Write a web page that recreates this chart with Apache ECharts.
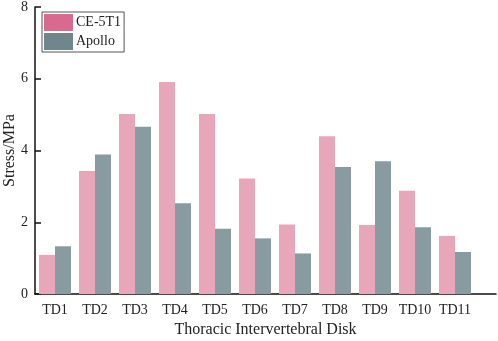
<!DOCTYPE html>
<html><head><meta charset="utf-8">
<script src="https://cdn.jsdelivr.net/npm/echarts@6/dist/echarts.min.js"></script>
<style>html,body{margin:0;padding:0;background:#fff}#c{width:498px;height:341px}</style>
</head><body><div id="c"></div>
<script>
const categories = ['TD1','TD2','TD3','TD4','TD5','TD6','TD7','TD8','TD9','TD10','TD11'];
const ce5t1 = [1.09, 3.43, 5.02, 5.91, 5.02, 3.22, 1.94, 4.40, 1.92, 2.88, 1.62];
const apollo = [1.33, 3.89, 4.66, 2.53, 1.82, 1.55, 1.13, 3.54, 3.70, 1.86, 1.17];
const yTicks = [0, 2, 4, 6, 8];

const font = 'Liberation Serif, Times New Roman, serif';
const chart = echarts.init(document.getElementById('c'), null, {renderer:'canvas'});
chart.setOption({
  animation: false,
  grid: [
    {left: 35, right: 23, top: 7, bottom: 47, containLabel: false, outerBoundsMode: 'none'},
    {left: 35, right: 2, top: 7, bottom: 47, containLabel: false, outerBoundsMode: 'none'}
  ],
  legend: {
    left: 42, top: 12,
    orient: 'vertical',
    itemWidth: 29, itemHeight: 17, itemGap: 2,
    padding: [2, 3, 2, 2],
    borderColor: '#555', borderWidth: 1,
    textStyle: {fontFamily: font, fontSize: 14, color: '#222', padding: [0,0,0,-2]},
    data: [
      {name: 'CE-5T1', icon: 'rect', itemStyle: {color: '#d8698f'}},
      {name: 'Apollo', icon: 'rect', itemStyle: {color: '#6e868c'}}
    ]
  },
  xAxis: [{
    type: 'category', data: categories, gridIndex: 0,
    axisLine: {show: false},
    axisTick: {show: false},
    axisLabel: {fontFamily: font, fontSize: 14, color: '#222', margin: 9, interval: 0}
  }, {
    type: 'value', gridIndex: 1, min: 0, max: 1,
    name: 'Thoracic Intervertebral Disk', nameLocation: 'middle', nameGap: 28,
    nameMoveOverlap: false,
    nameTextStyle: {fontFamily: font, fontSize: 16, color: '#222'},
    axisLine: {show: true, onZero: false, lineStyle: {color: '#111', width: 1.5}},
    axisTick: {show: false}, axisLabel: {show: false}, splitLine: {show: false}
  }],
  yAxis: [{
    type: 'value', gridIndex: 0, min: yTicks[0], max: yTicks[yTicks.length-1], interval: 2,
    name: 'Stress/MPa', nameLocation: 'middle', nameGap: 17,
    nameMoveOverlap: false,
    nameTextStyle: {fontFamily: font, fontSize: 16, color: '#222'},
    axisLine: {show: true, lineStyle: {color: '#111', width: 1.5}},
    axisTick: {show: true, inside: false, length: -6, lineStyle: {color: '#111', width: 1.5}},
    axisLabel: {fontFamily: font, fontSize: 14, color: '#222', margin: 7},
    splitLine: {show: false}
  }, {
    type: 'value', gridIndex: 1, show: false, min: 0, max: 1
  }],
  series: [
    {name: 'CE-5T1', type: 'bar', data: ce5t1, barWidth: 16, barGap: '0%',
     itemStyle: {color: '#e8a6bb'}},
    {name: 'Apollo', type: 'bar', data: apollo, barWidth: 16, barGap: '0%',
     itemStyle: {color: '#889ba0'}}
  ]
});
</script></body></html>
